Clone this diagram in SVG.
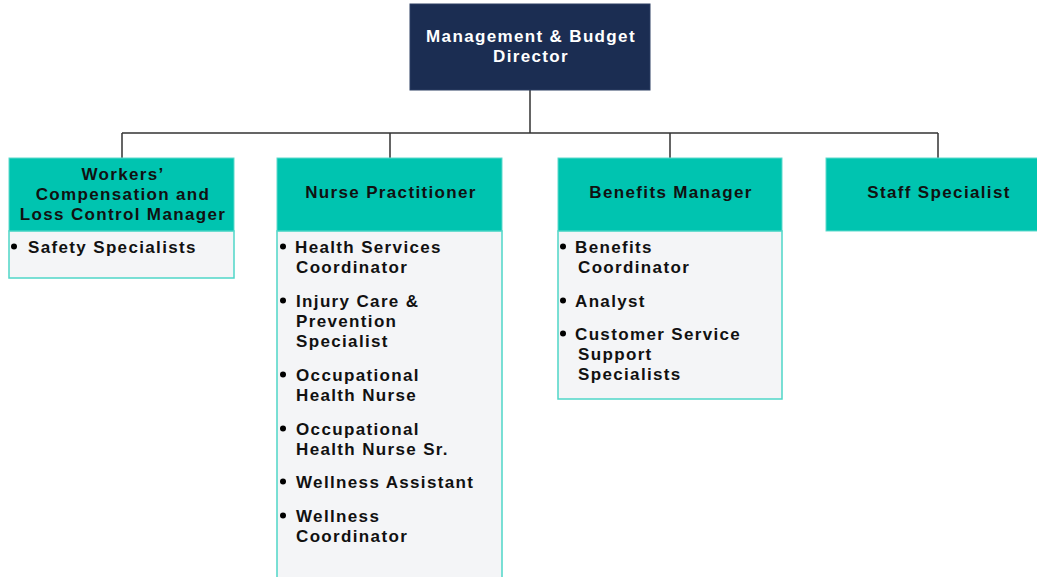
<svg xmlns="http://www.w3.org/2000/svg" width="1037" height="577" viewBox="0 0 1037 577">
<style>
.hdr{fill:#00c4b0;stroke:#5fd9cc;stroke-width:1}
.body{fill:#f4f5f7;stroke:#4fd6c8;stroke-width:1.5}
.t{font-family:"Liberation Sans",Arial,sans-serif;font-weight:bold;font-size:17px;fill:#111;letter-spacing:1.35px}
.c{text-anchor:middle}
.w{fill:#ffffff}
.conn{stroke:#333;stroke-width:1.5;fill:none}
.dot{fill:#000}
</style>
<rect width="1037" height="577" fill="#ffffff"/>
<g id="connectors">
<path class="conn" d="M530 90 V133 M122 133 H938 M122 133 V158 M390 133 V158 M670 133 V158 M938 133 V158"/>
</g>
<g id="director">
<rect x="410" y="4" width="240" height="86" fill="#1b2d52" stroke="#2c3e63"/>
<text class="t c w" x="531" y="42">Management &amp; Budget</text>
<text class="t c w" x="531" y="62">Director</text>
</g>
<g id="workers-comp">
<rect class="body" x="9" y="231" width="225" height="47"/>
<rect class="hdr" x="9" y="158" width="225" height="73"/>
<text class="t c" x="123" y="180">Workers’</text>
<text class="t c" x="123" y="200">Compensation and</text>
<text class="t c" x="123" y="220">Loss Control Manager</text>
<circle class="dot" cx="14" cy="246.5" r="3"/>
<text class="t" x="28" y="253">Safety Specialists</text>
</g>
<g id="nurse-practitioner">
<rect class="body" x="277" y="231" width="225" height="360"/>
<rect class="hdr" x="277" y="158" width="225" height="73"/>
<text class="t c" x="391" y="198">Nurse Practitioner</text>
<circle class="dot" cx="283" cy="246.5" r="3"/>
<text class="t" x="295" y="253">Health Services</text>
<text class="t" x="296" y="273">Coordinator</text>
<circle class="dot" cx="283" cy="300.5" r="3"/>
<text class="t" x="296" y="307">Injury Care &amp;</text>
<text class="t" x="296" y="327">Prevention</text>
<text class="t" x="296" y="347">Specialist</text>
<circle class="dot" cx="283" cy="374.5" r="3"/>
<text class="t" x="296" y="381">Occupational</text>
<text class="t" x="296" y="401">Health Nurse</text>
<circle class="dot" cx="283" cy="428.5" r="3"/>
<text class="t" x="296" y="435">Occupational</text>
<text class="t" x="296" y="455">Health Nurse Sr.</text>
<circle class="dot" cx="283" cy="481.5" r="3"/>
<text class="t" x="296" y="488">Wellness Assistant</text>
<circle class="dot" cx="283" cy="515.5" r="3"/>
<text class="t" x="296" y="522">Wellness</text>
<text class="t" x="296" y="542">Coordinator</text>
</g>
<g id="benefits-manager">
<rect class="body" x="558" y="231" width="224" height="168"/>
<rect class="hdr" x="558" y="158" width="224" height="73"/>
<text class="t c" x="671" y="198">Benefits Manager</text>
<circle class="dot" cx="563" cy="246.5" r="3"/>
<text class="t" x="575" y="253">Benefits</text>
<text class="t" x="578" y="273">Coordinator</text>
<circle class="dot" cx="563" cy="300.5" r="3"/>
<text class="t" x="575" y="307">Analyst</text>
<circle class="dot" cx="563" cy="333.5" r="3"/>
<text class="t" x="575" y="340">Customer Service</text>
<text class="t" x="578" y="360">Support</text>
<text class="t" x="578" y="380">Specialists</text>
</g>
<g id="staff-specialist">
<rect class="hdr" x="826" y="158" width="224" height="73"/>
<text class="t c" x="939" y="198">Staff Specialist</text>
</g>
</svg>
